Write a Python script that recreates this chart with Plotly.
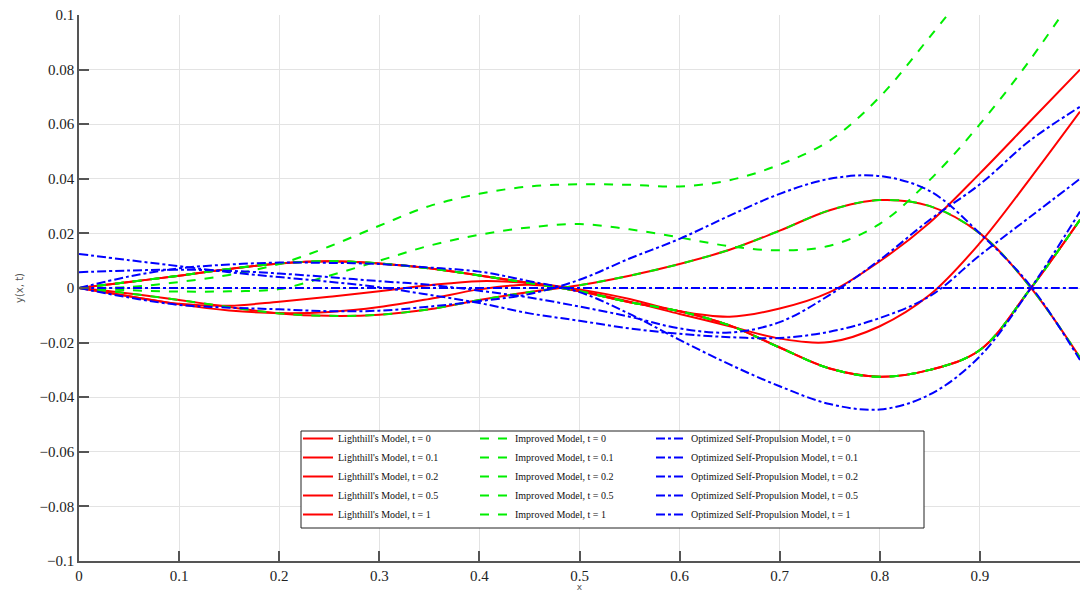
import plotly.graph_objects as go

# x positions where the curves were read
x = [0.0, 0.05, 0.1, 0.15, 0.2, 0.25, 0.3, 0.35, 0.4, 0.45, 0.5,
     0.55, 0.6, 0.65, 0.7, 0.75, 0.8, 0.85, 0.9, 0.95, 1.0]

# Lighthill's model
lh_t0 = [0, 0.0022, 0.0045, 0.0070, 0.0090, 0.0098, 0.0090, 0.0072, 0.0046, 0.0018, -0.0012,
         -0.0052, -0.0085, -0.0137, -0.0218, -0.0295, -0.0325, -0.0300, -0.0227, -0.0005, 0.0250]
lh_t01 = [0, -0.0030, -0.0060, -0.0082, -0.0092, -0.0088, -0.0070, -0.0040, -0.0005, 0.0012, -0.0010,
          -0.0050, -0.0095, -0.0140, -0.0185, -0.0198, -0.0140, -0.0025, 0.0165, 0.0400, 0.0646]
lh_t02 = [0, -0.0030, -0.0058, -0.0065, -0.0050, -0.0032, -0.0012, 0.0010, 0.0025, 0.0018, -0.0005,
          -0.0040, -0.0085, -0.0105, -0.0075, -0.0015, 0.0098, 0.0240, 0.0420, 0.0610, 0.0800]
lh_t05 = [0, -0.0020, -0.0044, -0.0070, -0.0093, -0.0102, -0.0098, -0.0078, -0.0044, -0.0015, 0.0010,
          0.0045, 0.0088, 0.0140, 0.0210, 0.0285, 0.0322, 0.0300, 0.0200, 0.0005, -0.0255]
lh_t1 = list(lh_t0)

# Improved model
im_t0 = list(lh_t0)
im_t01 = [0, -0.0008, -0.0013, -0.0012, -0.0004, 0.0045, 0.0100, 0.0155, 0.0195, 0.0222, 0.0234,
          0.0215, 0.0185, 0.0153, 0.0138, 0.0155, 0.0235, 0.0396, 0.0600, 0.0835, 0.1100]
im_t02 = [0, 0.0004, 0.0022, 0.0048, 0.0088, 0.0152, 0.0228, 0.0300, 0.0345, 0.0372, 0.0380,
          0.0378, 0.0372, 0.0395, 0.0452, 0.0540, 0.0700, 0.0920, 0.1150]
im_t05 = list(lh_t05)
im_t1 = list(lh_t0)

# Optimized self-propulsion model
op_t0 = [0, -0.0035, -0.0062, -0.0072, -0.0078, -0.0085, -0.0083, -0.0068, -0.0048, -0.0022, 0.0030,
         0.0108, 0.0180, 0.0265, 0.0345, 0.0400, 0.0410, 0.0355, 0.0200, 0.0010, -0.0264]
op_t01 = [0.0058, 0.0064, 0.0067, 0.0063, 0.0053, 0.0040, 0.0025, 0.0012, -0.0010, -0.0035, -0.0068,
          -0.0105, -0.0148, -0.0163, -0.0125, -0.0025, 0.0103, 0.0250, 0.0380, 0.0540, 0.0664]
op_t02 = [0.0125, 0.0102, 0.0080, 0.0058, 0.0040, 0.0023, 0.0003, -0.0025, -0.0055, -0.0093, -0.0120,
          -0.0148, -0.0168, -0.0180, -0.0183, -0.0160, -0.0110, -0.0030, 0.0120, 0.0260, 0.0400]
op_t05 = [0, 0.0042, 0.0072, 0.0086, 0.0093, 0.0092, 0.0088, 0.0075, 0.0060, 0.0025, -0.0015,
          -0.0095, -0.0190, -0.0280, -0.0360, -0.0425, -0.0445, -0.0390, -0.0250, -0.0005, 0.0280]
op_t1 = [0] * 21

t_labels = ["0", "0.1", "0.2", "0.5", "1"]

models = [
    ("Lighthill's Model", [lh_t0, lh_t01, lh_t02, lh_t05, lh_t1], "#ff0000", "solid", "legend"),
    ("Improved Model", [im_t0, im_t01, im_t02, im_t05, im_t1], "#00ee00", "dash", "legend2"),
    ("Optimized Self-Propulsion Model", [op_t0, op_t01, op_t02, op_t05, op_t1], "#0000ff", "dashdot", "legend3"),
]

xticks = [0, 0.1, 0.2, 0.3, 0.4, 0.5, 0.6, 0.7, 0.8, 0.9, 1]
xtick_text = ["0", "0.1", "0.2", "0.3", "0.4", "0.5", "0.6", "0.7", "0.8", "0.9", "1"]
yticks = [0.1, 0.08, 0.06, 0.04, 0.02, 0, -0.02, -0.04, -0.06, -0.08, -0.1]
ytick_text = ["0.1", "0.08", "0.06", "0.04", "0.02", "0", "\u22120.02", "\u22120.04",
              "\u22120.06", "\u22120.08", "\u22120.1"]

fig = go.Figure()
for name, series, color, dash, leg in models:
    for tl, ys in zip(t_labels, series):
        fig.add_trace(go.Scatter(
            x=x[:len(ys)], y=ys, mode="lines",
            name=f"{name}, t = {tl}",
            line=dict(color=color, width=2, dash=dash, shape="spline", smoothing=1.0),
            legend=leg,
        ))

serif = "Liberation Serif"
PW = 1001.0
PH = 546.0


def px_x(p):
    return (p - 79) / PW


def px_y(p):
    return (561 - p) / PH


leg_common = dict(
    orientation="v", yanchor="top", xanchor="left",
    bgcolor="rgba(0,0,0,0)", borderwidth=0,
    font=dict(family=serif, size=10, color="#111"),
    tracegroupgap=0, itemwidth=30,
)

fig.update_layout(
    width=1080, height=592,
    margin=dict(l=79, r=0, t=15, b=31),
    paper_bgcolor="white", plot_bgcolor="white",
    font=dict(family=serif, size=15, color="#222"),
    showlegend=True,
    legend=dict(x=px_x(298), y=px_y(424), **leg_common),
    legend2=dict(x=px_x(475), y=px_y(424), **leg_common),
    legend3=dict(x=px_x(651), y=px_y(424), **leg_common),
    shapes=[dict(type="rect", xref="paper", yref="paper",
                 x0=px_x(301), x1=px_x(924), y0=px_y(528), y1=px_y(431),
                 fillcolor="white", line=dict(color="#222", width=1), layer="above")],
)
fig.update_xaxes(
    range=[0, 1], tickvals=xticks, ticktext=xtick_text,
    showgrid=True, gridcolor="#e3e3e3", gridwidth=1,
    showline=True, linecolor="#555", linewidth=1.5,
    ticks="inside", ticklen=10, tickcolor="#555", tickwidth=1.5,
    zeroline=False,
    title=dict(text="x", font=dict(family="DejaVu Sans", size=9, color="#555"), standoff=3),
    tickfont=dict(family=serif, size=15, color="#222"),
)
fig.update_yaxes(
    range=[-0.1, 0.1], tickvals=yticks, ticktext=ytick_text,
    showgrid=True, gridcolor="#e3e3e3", gridwidth=1,
    showline=True, linecolor="#555", linewidth=1.5,
    ticks="inside", ticklen=10, tickcolor="#555", tickwidth=1.5,
    zeroline=False,
    title=dict(text="y(x, t)", font=dict(family="DejaVu Sans", size=10, color="#555"), standoff=14),
    tickfont=dict(family=serif, size=15, color="#222"),
)

fig.write_html("out.html")
